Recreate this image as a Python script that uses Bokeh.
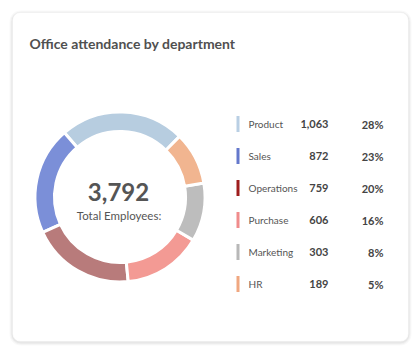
import math
from bokeh.plotting import figure
from bokeh.models import Range1d, BoxAnnotation, ColumnDataSource
from bokeh.core.properties import value
from bokeh.embed import file_html
from bokeh.resources import INLINE

# ---- data ----
title_text = "Office attendance by department"
departments = ["Product", "Sales", "Operations", "Purchase", "Marketing", "HR"]
employees = [1063, 872, 759, 606, 303, 189]
percent_labels = ["28%", "23%", "20%", "16%", "8%", "5%"]
# share of the ring each segment occupies (percent)
ring_share = [23.7, 20.5, 19.7, 15.0, 11.1, 10.0]
total_label = "3,792"
total_caption = "Total Employees:"

ring_colors = ["#b7cde0", "#7b8fd8", "#b87b7b", "#f39a94", "#bdbdbd", "#f1b590"]
legend_colors = ["#b9cfe4", "#6478cc", "#9e1d1d", "#f08c8c", "#b8b8b8", "#f0a780"]

W, H = 418, 353
FONT = "Lato"

p = figure(width=W, height=H, output_backend="svg", toolbar_location=None,
           x_range=Range1d(0, W), y_range=Range1d(0, H), min_border=0)
p.axis.visible = False
p.grid.visible = False
p.outline_line_color = None
p.background_fill_color = "#ffffff"
p.border_fill_color = "#ffffff"

def Y(y):
    return H - y

# card with soft shadow
for i, a in enumerate([0.025, 0.03, 0.04]):
    d = 3 - i
    p.add_layout(BoxAnnotation(left=12 - d, right=408 + d, top=Y(12 - d + 1), bottom=Y(341 + d + 1),
                               fill_color="#000000", fill_alpha=a, line_color=None,
                               border_radius=8 + d, level="underlay"))
p.add_layout(BoxAnnotation(left=12, right=408, top=Y(12), bottom=Y(341),
                           fill_color="#ffffff", fill_alpha=1, line_color="#e4e4e4",
                           line_width=1, border_radius=8, level="underlay"))

# title
p.text(x=[29], y=[Y(43)], text=[title_text], text_font=value(FONT), text_font_size="14px",
       text_font_style="bold", text_color="#505050", text_baseline="middle", text_align="left")

# donut
cx, cy = 119.5, Y(196.5)
start0 = math.radians(45.5)
tot = sum(ring_share)
starts, ends = [], []
acc = start0
for s in ring_share:
    starts.append(acc)
    acc += 2 * math.pi * s / tot
    ends.append(acc)
src = ColumnDataSource(dict(start=starts, end=ends, color=ring_colors, name=departments))
p.annular_wedge(x=cx, y=cy, inner_radius=65.5, outer_radius=85.0, start_angle="start",
                end_angle="end", direction="anticlock", fill_color="color",
                line_color="#ffffff", line_width=3, source=src)

p.text(x=[118], y=[Y(191.5)], text=[total_label], text_font=value(FONT), text_font_size="24px",
       text_font_style="bold", text_color="#555555", text_align="center", text_baseline="middle")
p.text(x=[118.5], y=[Y(214.5)], text=[total_caption], text_font=value(FONT), text_font_size="11.5px",
       text_color="#555555", text_align="center", text_baseline="middle")

# legend table
row0, row_h = 123.5, 32.0
ys = [Y(row0 + i * row_h) for i in range(len(departments))]
lsrc = ColumnDataSource(dict(
    y=ys, top=[y + 8 for y in ys], bottom=[y - 8 for y in ys], color=legend_colors,
    name=departments, val=[f"{v:,}" for v in employees], pct=percent_labels))
p.quad(left=236, right=239, top="top", bottom="bottom", fill_color="color",
       line_color=None, source=lsrc)
p.text(x=248, y="y", text="name", text_font=value(FONT), text_font_size="10px",
       text_color="#555555", text_baseline="middle", text_align="left", source=lsrc)
p.text(x=328, y="y", text="val", text_font=value(FONT), text_font_size="11px",
       text_font_style="bold", text_color="#444444", text_baseline="middle",
       text_align="right", source=lsrc)
p.text(x=383, y="y", text="pct", text_font=value(FONT), text_font_size="11px",
       text_font_style="bold", text_color="#444444", text_baseline="middle",
       text_align="right", source=lsrc)

open("out.html", "w").write(file_html(p, INLINE))
